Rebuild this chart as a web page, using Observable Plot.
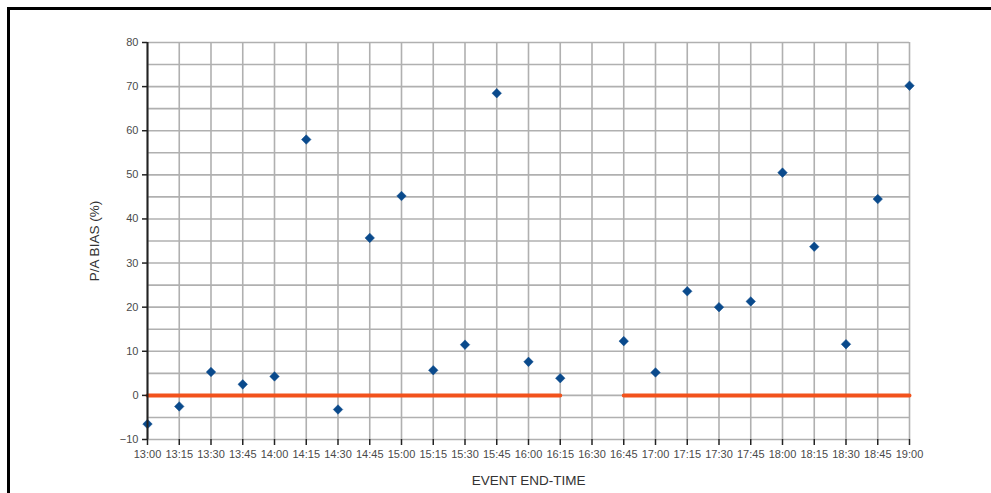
<!DOCTYPE html>
<html>
<head>
<meta charset="utf-8">
<script src="https://cdn.jsdelivr.net/npm/d3@7"></script>
<script src="https://cdn.jsdelivr.net/npm/@observablehq/plot@0.6"></script>
<style>
  html, body { margin: 0; padding: 0; background: #fff; }
  #wrap { position: relative; width: 991px; height: 493px; overflow: hidden; }
  #frame { position: absolute; left: 7px; top: 7px; width: 1000px; height: 500px;
           border-top: 3px solid #000; border-left: 3px solid #000; pointer-events: none; }
  svg { display: block; }
</style>
</head>
<body>
<div id="wrap"><div id="chart"></div><div id="frame"></div></div>
<script>
const times = ["13:00","13:15","13:30","13:45","14:00","14:15","14:30","14:45","15:00","15:15","15:30","15:45","16:00","16:15","16:30","16:45","17:00","17:15","17:30","17:45","18:00","18:15","18:30","18:45","19:00"];
const bias = [-6.5,-2.5,5.3,2.5,4.3,58,-3.2,35.7,45.2,5.7,11.5,68.5,7.6,3.9,null,12.3,5.2,23.6,20,21.3,50.5,33.7,11.6,44.5,70.2];
const refLine = [0,0,0,0,0,0,0,0,0,0,0,0,0,0,null,0,0,0,0,0,0,0,0,0,0];
const yTicks = [-10,0,10,20,30,40,50,60,70,80];
const yGrid = [-10,-5,0,5,10,15,20,25,30,35,40,45,50,55,60,65,70,75,80];

const rows = times.map((t, i) => ({t, v: bias[i], r: refLine[i]}));

const plot = Plot.plot({
  width: 991,
  height: 493,
  marginLeft: 147,
  marginRight: 82,
  marginTop: 42,
  marginBottom: 54,
  style: {fontFamily: "'Liberation Sans', Arial, sans-serif", fontSize: "11px", color: "#555", background: "#fff"},
  x: {type: "point", domain: times, padding: 0, round: false, inset: 0, label: null},
  y: {domain: [-10, 80], inset: 0, label: null},
  marks: [
    Plot.ruleY(yGrid, {stroke: "#b0b0b0", strokeWidth: 1.6}),
    Plot.ruleX(times, {stroke: "#b0b0b0", strokeWidth: 1.6}),
    Plot.line(rows, {x: "t", y: "r", stroke: "#f2521c", strokeWidth: 4, defined: d => d.r != null}),
    Plot.dot(rows.filter(d => d.v != null), {x: "t", y: "v", symbol: "diamond2", r: 4.3, fill: "#0a4a8c", stroke: "#0a4a8c", strokeWidth: 0.5}),
    Plot.axisY({ticks: yTicks, tickSize: 5, tickPadding: 4, stroke: "#222", strokeWidth: 1.5, fill: "#4a4a4a", fontSize: 11,
      label: "P/A BIAS (%)", labelAnchor: "center", labelArrow: "none", labelOffset: 58}),
    Plot.axisX({ticks: times, tickSize: 6, tickPadding: 5, stroke: "#222", strokeWidth: 1.5, fill: "#4a4a4a", fontSize: 11,
      label: "EVENT END-TIME", labelAnchor: "center", labelArrow: "none", labelOffset: 45}),
    Plot.ruleX([times[0]], {y1: -10, y2: 80, stroke: "#222", strokeWidth: 2}),
    Plot.ruleY([-10], {x1: times[0], x2: times[times.length - 1], stroke: "#222", strokeWidth: 2})
  ]
});
plot.querySelectorAll("g[aria-label='y-axis label'] text, g[aria-label='x-axis label'] text").forEach(t => {
  t.setAttribute("font-size", "13.5px");
  t.style.fontSize = "13.5px";
  t.setAttribute("fill", "#333");
});
document.getElementById("chart").appendChild(plot);
</script>
</body>
</html>
